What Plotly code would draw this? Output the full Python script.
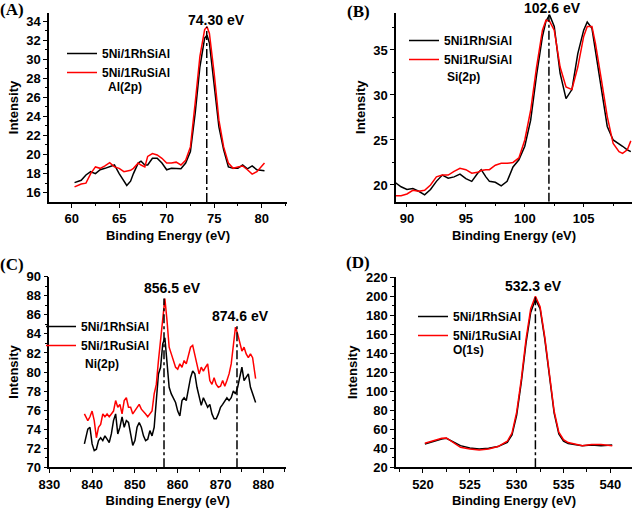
import plotly.graph_objects as go

# ---------------- data ----------------
A_energy = [60.3, 61, 61.5, 62, 62.5, 63, 63.5, 64, 64.5, 65, 65.5, 65.8, 66.2, 66.5, 67, 67.3, 67.7, 68,
            68.5, 69, 69.5, 70, 70.5, 71, 71.5, 72, 72.5, 73, 73.5, 74, 74.25, 74.5, 75, 75.5, 76, 76.5,
            77, 77.5, 78, 78.5, 79, 79.5, 80.3]
A_rh = [17.05, 17.3, 17.85, 18.2, 18.0, 18.4, 18.55, 18.7, 18.9, 18.0, 17.2, 16.75, 17.2, 18.0, 19.1, 19.3,
        18.9, 18.9, 19.6, 19.6, 19.1, 18.4, 18.55, 18.55, 18.5, 19.1, 20.3, 24.3, 29.2, 32.2, 32.5, 31.7,
        27.1, 22.9, 20.5, 18.7, 18.55, 18.55, 18.9, 18.5, 18.8, 18.4, 18.3]
A_ru = [16.6, 16.9, 17.0, 18.0, 18.7, 18.55, 18.8, 19.15, 18.7, 18.55, 18.2, 18.25, 18.35, 18.55, 19.1, 18.9,
        18.7, 19.8, 20.1, 19.95, 19.6, 19.1, 19.1, 19.2, 18.9, 19.4, 20.8, 25.4, 30.3, 33.1, 33.4, 32.7,
        28.5, 23.6, 20.8, 19.1, 18.55, 18.7, 18.8, 18.4, 17.95, 18.2, 19.1]

B_energy = [89, 89.5, 90, 90.5, 91, 91.5, 92, 92.5, 93, 93.5, 94, 94.5, 95, 95.5, 96, 96.3, 96.7, 97, 97.5,
            98, 98.5, 99, 99.5, 100, 100.5, 101, 101.5, 101.8, 102.1, 102.5, 103, 103.5, 104, 104.5, 105,
            105.3, 105.7, 106, 106.5, 107, 107.5, 108, 108.3, 108.7, 109]
B_rh = [20.26, 19.8, 19.5, 19.6, 19.3, 18.9, 19.5, 20.4, 21.1, 20.75, 20.9, 21.2, 20.7, 20.4, 21.3, 21.7,
        20.9, 20.4, 20.3, 19.9, 20.4, 22.0, 22.8, 24.3, 27.2, 32.2, 36.5, 38.2, 38.9, 37.6, 32.4, 29.6, 30.6,
        34.6, 37.2, 38.1, 37.4, 35.0, 30.6, 26.5, 25.0, 24.6, 24.3, 23.9, 23.7]
B_ru = [18.8, 18.8, 19.0, 19.4, 19.3, 19.4, 20.0, 20.9, 21.1, 21.1, 21.5, 21.85, 21.7, 21.3, 21.4, 21.6,
        21.7, 21.7, 22.2, 22.4, 22.4, 22.5, 23.0, 25.0, 28.3, 33.1, 37.2, 38.3, 38.2, 37.2, 33.1, 30.9, 30.6,
        33.1, 36.5, 37.6, 37.6, 35.7, 31.7, 27.6, 24.6, 23.7, 23.5, 23.9, 24.9]

C_energy = [838.2, 839, 839.5, 840, 840.5, 841, 841.5, 842, 842.5, 843, 843.5, 844, 844.5, 845, 845.5, 846,
            846.5, 847, 847.5, 848, 848.5, 849, 849.5, 850, 850.5, 851, 851.5, 852, 852.5, 853, 853.5, 854,
            854.5, 855, 855.5, 856, 856.5, 857, 857.5, 858, 858.5, 859, 859.5, 860, 860.5, 861, 861.5, 862,
            862.5, 863, 863.5, 864, 864.5, 865, 865.5, 866, 866.5, 867, 867.5, 868, 868.5, 869, 869.5, 870,
            870.5, 871, 871.5, 872, 872.5, 873, 873.5, 874, 874.5, 875, 875.5, 876, 876.5, 877, 877.5, 878.2]
C_rh = [72.45, 74.0, 74.2, 72.45, 71.75, 71.9, 72.8, 73.1, 72.8, 73.3, 72.95, 72.6, 73.5, 74.9, 75.6, 73.5,
        74.2, 75.3, 74.2, 74.9, 74.7, 73.5, 72.3, 72.8, 74.2, 74.7, 74.2, 73.3, 72.8, 72.95, 73.85, 73.3,
        74.2, 77.0, 79.8, 80.5, 82.95, 83.6, 80.8, 78.4, 77.7, 77.3, 76.8, 75.9, 75.4, 77.0, 77.3, 77.0,
        78.4, 79.4, 80.1, 79.8, 78.4, 77.3, 76.5, 77.3, 76.8, 76.3, 76.6, 75.6, 75.1, 75.1, 75.6, 76.3,
        76.6, 77.0, 77.3, 77.0, 77.3, 78.0, 77.7, 78.4, 79.4, 80.5, 79.1, 79.4, 79.8, 78.4, 77.7, 76.8]
C_ru = [75.6, 74.9, 75.3, 75.9, 74.9, 73.1, 74.2, 74.5, 75.6, 75.3, 75.6, 75.3, 75.6, 75.9, 77.0, 76.3,
        76.6, 75.6, 77.0, 77.3, 76.3, 76.3, 75.6, 75.9, 76.3, 76.6, 76.1, 75.9, 75.6, 75.3, 75.6, 75.9,
        77.7, 78.7, 81.2, 83.3, 86.1, 87.7, 85.4, 82.6, 81.9, 81.2, 80.5, 80.3, 80.85, 80.5, 81.2, 80.85,
        81.9, 82.6, 82.8, 81.9, 80.85, 79.8, 80.5, 80.1, 80.5, 80.85, 79.1, 78.7, 79.4, 78.7, 78.4, 78.5,
        79.1, 78.5, 79.1, 79.8, 80.85, 83.0, 84.7, 84.0, 83.1, 82.2, 82.6, 81.9, 81.5, 81.9, 81.5, 79.3]

D_energy = [520.2, 521, 522, 522.5, 523, 524, 525, 526, 527, 528, 529, 529.5, 530, 530.5, 531, 531.5, 532,
            532.5, 533, 533.5, 534, 534.5, 535, 535.5, 536, 537, 538, 539, 540.2]
D_rh = [44.6, 47.0, 49.8, 50.5, 48.0, 42.8, 40.4, 39.3, 40.0, 41.8, 46.3, 54.0, 75.0, 110.0, 151.0, 183.0,
        197.0, 187.0, 155.0, 114.0, 77.0, 55.0, 47.5, 45.0, 44.0, 42.8, 43.5, 42.8, 43.5]
D_ru = [45.3, 47.4, 50.5, 50.9, 47.4, 41.0, 39.3, 38.2, 39.3, 41.8, 47.4, 56.0, 78.0, 113.0, 155.0, 187.0,
        200.0, 189.0, 157.0, 116.0, 79.0, 57.0, 49.0, 46.0, 45.0, 42.8, 43.9, 43.9, 42.8]

# peak reference markers (energy, top intensity) per panel
A_peaks = [(74.22, 33.4)]
B_peaks = [(102.05, 38.9)]
C_peaks = [(856.8, 87.7), (873.85, 84.8)]
D_peaks = [(532.0, 199.0)]

A_names = ["5Ni/1RhSiAl", "5Ni/1RuSiAl"]
B_names = ["5Ni1Rh/SiAl", "5Ni1Ru/SiAl"]
C_names = ["5Ni/1RhSiAl", "5Ni/1RuSiAl"]
D_names = ["5Ni/1RhSiAl", "5Ni/1RuSiAl"]

# ---------------- layout helpers ----------------
W, H = 634, 508
SANS = "Liberation Sans, Arial, sans-serif"


def px_x(p):
    return p / W


def px_y(p):
    return 1 - p / H


fig = go.Figure()

panels = [
    dict(e=A_energy, rh=A_rh, ru=A_ru, names=A_names, peaks=A_peaks, ax="", lg="legend",
         xr=[57.61, 82.67], yr=[15.02, 34.84], xd=(49, 287), yd=(13, 202),
         xdt=5, xmin=2.5, ydt=2, ymin=1, ymin0=16, lgpos=(62, 39)),
    dict(e=B_energy, rh=B_rh, ru=B_ru, names=B_names, peaks=B_peaks, ax="2", lg="legend2",
         xr=[89.07, 109.1], yr=[18.14, 39.14], xd=(396, 632), yd=(12.7, 201.7),
         xdt=5, xmin=2.5, ydt=5, ymin=2.5, ymin0=20, lgpos=(404, 26)),
    dict(e=C_energy, rh=C_rh, ru=C_ru, names=C_names, peaks=C_peaks, ax="3", lg="legend3",
         xr=[830, 885.3], yr=[70, 90], xd=(49.3, 286), yd=(276.7, 467.3),
         xdt=10, xmin=5, ydt=2, ymin=1, ymin0=70, lgpos=(41, 312)),
    dict(e=D_energy, rh=D_rh, ru=D_ru, names=D_names, peaks=D_peaks, ax="4", lg="legend4",
         xr=[517.12, 542.31], yr=[20, 220], xd=(396, 632), yd=(277.3, 467.3),
         xdt=5, xmin=2.5, ydt=20, ymin=10, ymin0=20, lgpos=(413, 302)),
]

axis_font = dict(family=SANS, size=13, color="black", weight="bold")

for p in panels:
    xa = "x" + p["ax"]
    ya = "y" + p["ax"]
    fig.add_trace(go.Scatter(x=p["e"], y=p["rh"], mode="lines", name=p["names"][0],
                             line=dict(color="black", width=1.5), xaxis=xa, yaxis=ya, legend=p["lg"]))
    fig.add_trace(go.Scatter(x=p["e"], y=p["ru"], mode="lines", name=p["names"][1],
                             line=dict(color="#ff0000", width=1.5), xaxis=xa, yaxis=ya, legend=p["lg"]))
    for (pe, top) in p["peaks"]:
        fig.add_trace(go.Scatter(x=[pe, pe], y=[p["yr"][0], top], mode="lines", showlegend=False,
                                 line=dict(color="black", width=1.5, dash="dashdot"),
                                 xaxis=xa, yaxis=ya, hoverinfo="skip"))

    common = dict(showline=True, linecolor="black", linewidth=1.5, ticks="outside", ticklen=4,
                  tickwidth=1.2, tickcolor="black", showgrid=False, zeroline=False, mirror=False,
                  tickfont=axis_font, automargin=False)
    xaxis = dict(common, domain=[px_x(p["xd"][0]), px_x(p["xd"][1])], range=p["xr"], dtick=p["xdt"],
                 tick0=0, anchor=ya,
                 minor=dict(ticks="outside", ticklen=2.5, tickcolor="black", dtick=p["xmin"], tick0=0),
                 title=dict(text="<b>Binding Energy (eV)</b>", font=axis_font, standoff=6))
    yaxis = dict(common, domain=[px_y(p["yd"][1]), px_y(p["yd"][0])], range=p["yr"], dtick=p["ydt"],
                 tick0=p["ymin0"], anchor=xa,
                 minor=dict(ticks="outside", ticklen=2.5, tickcolor="black", dtick=p["ymin"], tick0=0),
                 title=dict(text="<b>Intensity</b>", font=axis_font, standoff=5))
    fig.update_layout({"xaxis" + p["ax"]: xaxis, "yaxis" + p["ax"]: yaxis})
    fig.update_layout({p["lg"]: dict(x=px_x(p["lgpos"][0]), y=px_y(p["lgpos"][1]), xanchor="left",
                                     yanchor="top", bgcolor="rgba(0,0,0,0)", borderwidth=0,
                                     font=dict(family=SANS, size=12, color="black", weight="bold"),
                                     tracegroupgap=0)})

annotations = []
for txt, x, y in [("(A)", 12, 10), ("(B)", 358, 12), ("(C)", 12, 264), ("(D)", 358, 262)]:
    annotations.append(dict(text="<b>%s</b>" % txt, x=px_x(x), y=px_y(y), xref="paper", yref="paper",
                            showarrow=False, xanchor="center", yanchor="middle",
                            font=dict(family="Liberation Serif, Times New Roman, serif", size=17,
                                      color="black")))
for txt, x, y in [("74.30 eV", 216.7, 19.7), ("102.6 eV", 552.7, 8), ("856.5 eV", 172, 288),
                  ("874.6 eV", 240.3, 315.7), ("532.3 eV", 533.7, 286.3)]:
    annotations.append(dict(text="<b>%s</b>" % txt, x=px_x(x), y=px_y(y), xref="paper", yref="paper",
                            showarrow=False, xanchor="center", yanchor="middle",
                            font=dict(family=SANS, size=14, color="black")))
for txt, x, y in [("Al(2p)", 125, 87), ("Si(2p)", 463.7, 77), ("Ni(2p)", 102, 364), ("O(1s)", 469, 350)]:
    annotations.append(dict(text="<b>%s</b>" % txt, x=px_x(x), y=px_y(y), xref="paper", yref="paper",
                            showarrow=False, xanchor="center", yanchor="middle",
                            font=dict(family=SANS, size=12, color="black")))

fig.update_layout(width=W, height=H, margin=dict(l=0, r=0, t=0, b=0), paper_bgcolor="white",
                  plot_bgcolor="white", annotations=annotations, showlegend=True)

fig.write_html("out.html", config={"displayModeBar": False},
               post_script="document.body.style.margin='0';document.body.style.overflow='hidden';")
